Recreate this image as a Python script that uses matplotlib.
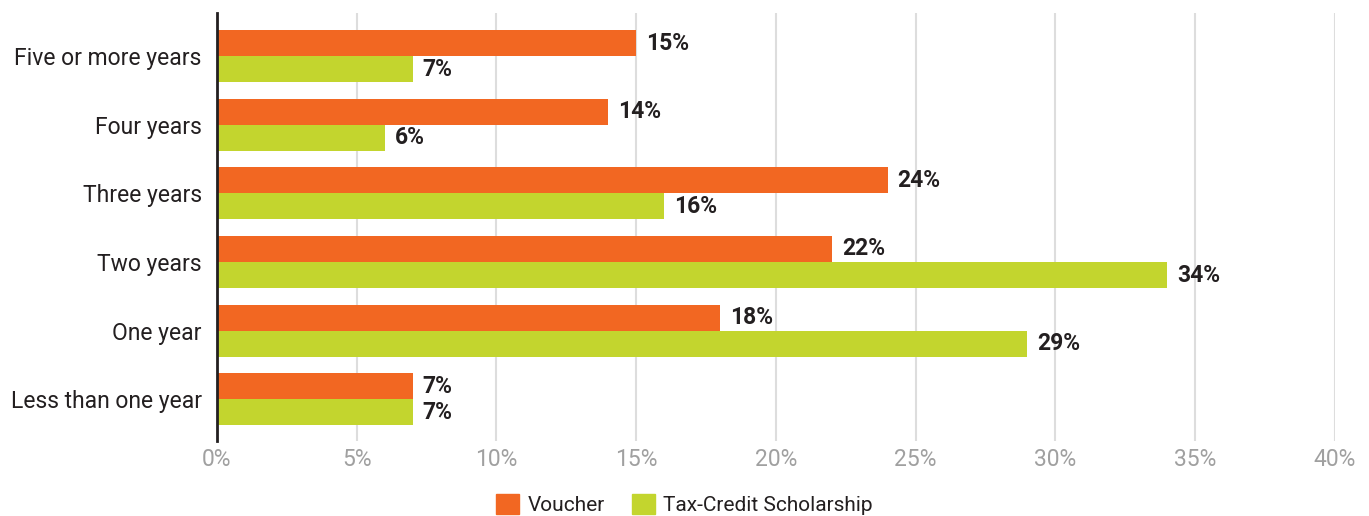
import matplotlib.pyplot as plt
from matplotlib.patches import Patch
import numpy as np

kategorije = ["Less than one year", "One year", "Two years", "Three years", "Four years", "Five or more years"]
voucher = [7, 18, 22, 24, 14, 15]
tax_credit = [7, 29, 34, 16, 6, 7]
xticks = [0, 5, 10, 15, 20, 25, 30, 35, 40]

narancasta = "#F26722"
zelena = "#C3D52E"
font = "Roboto"

fig = plt.figure(figsize=(13.69, 5.16), dpi=100)
ax = fig.add_axes([0.1585, 0.1453, 0.8165, 0.8295])

y = np.arange(len(kategorije))
h = 0.38
ax.barh(y + h/2, voucher, height=h, color=narancasta, zorder=3)
ax.barh(y - h/2, tax_credit, height=h, color=zelena, zorder=3)

for i in range(len(kategorije)):
    ax.text(voucher[i] + 0.36, y[i] + h/2, f"{voucher[i]}%", va="center", ha="left",
            fontsize=16.5, fontweight="bold", color="#231f20", family=font)
    ax.text(tax_credit[i] + 0.36, y[i] - h/2, f"{tax_credit[i]}%", va="center", ha="left",
            fontsize=16.5, fontweight="bold", color="#231f20", family=font)

ax.set_xlim(0, 40)
ax.set_ylim(-0.61, 5.63)
ax.set_xticks(xticks)
ax.set_xticklabels([f"{t}%" for t in xticks], color="#a0a0a0", fontsize=16.5, family=font)
ax.set_yticks(y)
ax.set_yticklabels(kategorije, fontsize=16.5, color="#231f20", family=font)
ax.tick_params(axis="both", length=0)
ax.tick_params(axis="x", pad=5)
ax.tick_params(axis="y", pad=11)

ax.grid(axis="x", color="#dddddd", linewidth=1.5, zorder=0)
for s in ["top", "right", "bottom"]:
    ax.spines[s].set_visible(False)
ax.spines["left"].set_color("#231f20")
ax.spines["left"].set_linewidth(2)
ax.spines["left"].set_zorder(4)

handles = [Patch(color=narancasta, label="Voucher"), Patch(color=zelena, label="Tax-Credit Scholarship")]
leg = fig.legend(handles=handles, loc="lower center", bbox_to_anchor=(0.5, -0.035), ncol=2,
                 frameon=False, handlelength=1.1, handleheight=1.1, handletextpad=0.4,
                 columnspacing=1.3, prop={"family": font, "size": 15})
for t in leg.get_texts():
    t.set_color("#231f20")

plt.savefig("out.png", dpi=100)
